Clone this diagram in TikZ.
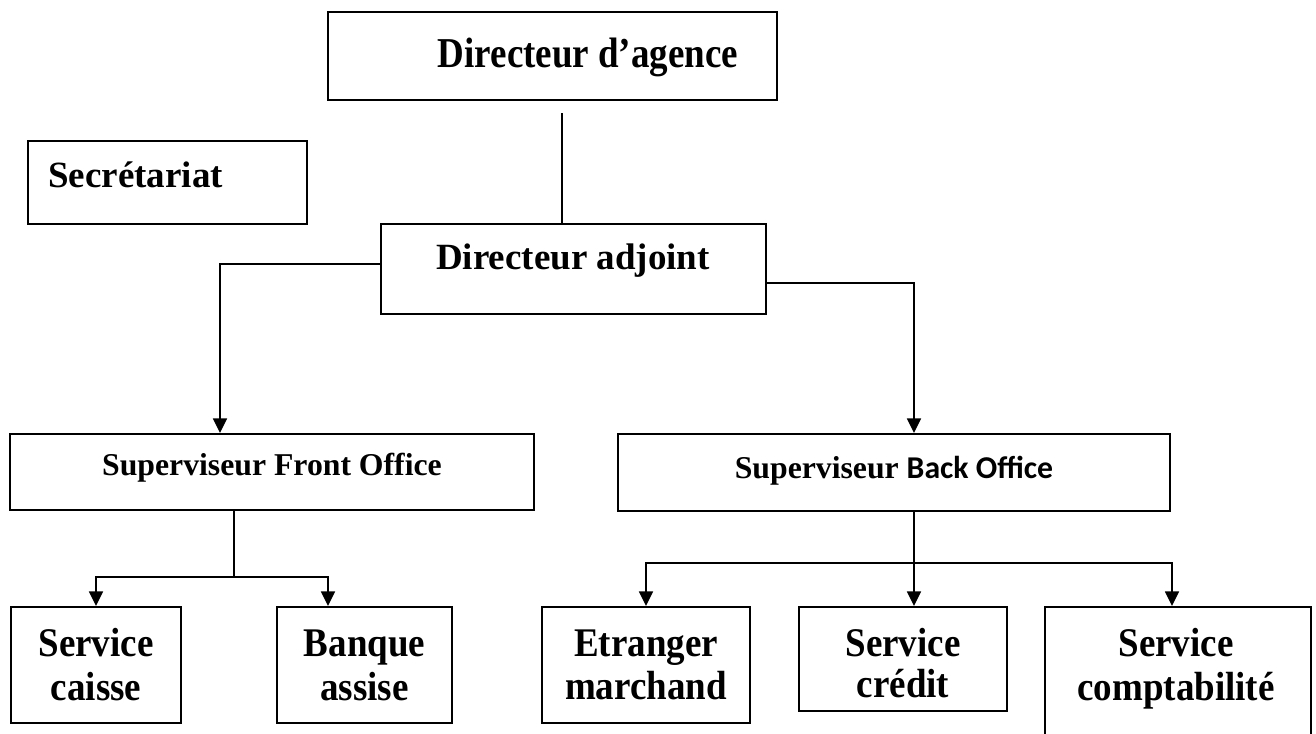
\documentclass[tikz,border=0pt]{standalone}
\usepackage{fontspec}
\usepackage{graphicx}
\setmainfont{Liberation Serif}
\newfontfamily\calibri{Carlito}
\usetikzlibrary{arrows.meta}

% a box given by its name, centre (px) and size (px)
\newcommand\orgbox[5]{\node[box, minimum width={#4*0.75pt}, minimum height={#5*0.75pt}] (#1) at (#2,#3) {};}
% text stretched vertically
\newcommand\vstretch[2]{\scalebox{1}[#1]{#2}}

\tikzset{
  box/.style={draw, line width=1.5pt, inner sep=0pt, rectangle},
  txt/.style={inner sep=0pt, anchor=base, font=\bfseries\fontsize{27.75pt}{30pt}\selectfont},
  midtxt/.style={inner sep=0pt, anchor=base, font=\bfseries\fontsize{23.8pt}{26pt}\selectfont},
  conn/.style={line width=1.2pt},
  arr/.style={conn, -{Triangle[length=11pt,width=10.5pt]}},
}

\begin{document}
\begin{tikzpicture}[x=0.75pt, y=-0.75pt]
\useasboundingbox (0,0) rectangle (1316,733);
\fill[white] (0,0) rectangle (1316,733);
\clip (0,0) rectangle (1316,733);

% boxes
\orgbox{agence}{552.5}{56}{449}{88}
\orgbox{secr}{167.5}{182.5}{279}{83}
\orgbox{adj}{573.5}{269}{385}{90}
\orgbox{sfo}{272}{472}{524}{76}
\orgbox{sbo}{894}{472.5}{552}{77}
\orgbox{caisse}{96}{665}{170}{116}
\orgbox{banque}{364.5}{665}{175}{116}
\orgbox{etr}{646}{665}{208}{116}
\orgbox{credit}{903}{659}{208}{104}
\orgbox{compta}{1178}{693.5}{266}{173}

% labels
\node[txt] (tAgence) at (588,67) {\vstretch{1.15}{Directeur d’agence}};
\node[txt, anchor=base west] (tSecr) at (48,187) {Secrétariat};
\node[txt] (tAdj) at (573,269) {Directeur adjoint};
\node[midtxt] (tSfo) at (272,475) {Superviseur Front Office};
\node[midtxt] (tSbo) at (894,478) {Superviseur {\calibri Back Office}};

\node[txt] (tCaisseA) at (96,656) {\vstretch{1.1}{Service}};
\node[txt] (tCaisseB) at (96,700) {\vstretch{1.1}{caisse}};
\node[txt] (tBanqueA) at (364.5,656) {\vstretch{1.1}{Banque}};
\node[txt] (tBanqueB) at (364.5,700) {\vstretch{1.1}{assise}};
\node[txt] (tEtrA) at (646,656) {\vstretch{1.1}{Etranger}};
\node[txt] (tEtrB) at (646,699) {\vstretch{1.1}{marchand}};
\node[txt] (tCreditA) at (903,656) {\vstretch{1.1}{Service}};
\node[txt] (tCreditB) at (903,697) {\vstretch{1.1}{crédit}};
\node[txt] (tComptaA) at (1176,656) {\vstretch{1.1}{Service}};
\node[txt] (tComptaB) at (1176,700) {\vstretch{1.1}{comptabilité}};

% junction points and drop lines
\coordinate (top) at (562,113);
\coordinate (xl) at (220,0);
\coordinate (xr) at (914,0);
\coordinate (fj) at (234,577);
\coordinate (ba) at (328,0);
\coordinate (bj) at (914,563);
\coordinate (xc) at (1172,0);

% connectors
\draw[conn] (top) -- (top |- adj.north);
\draw[arr] ([yshift=3.75pt]adj.west) -| (xl |- sfo.north);
\draw[arr] ([yshift=-10.5pt]adj.east) -| (xr |- sbo.north);

\draw[conn] (fj |- sfo.south) -- (fj);
\draw[arr] (fj) -| (caisse.north);
\draw[arr] (fj) -| (ba |- banque.north);

\draw[conn] (bj |- sbo.south) -- (bj);
\draw[arr] (bj) -| (etr.north);
\draw[arr] (bj) -- (bj |- credit.north);
\draw[arr] (bj) -| (xc |- compta.north);
\end{tikzpicture}
\end{document}
